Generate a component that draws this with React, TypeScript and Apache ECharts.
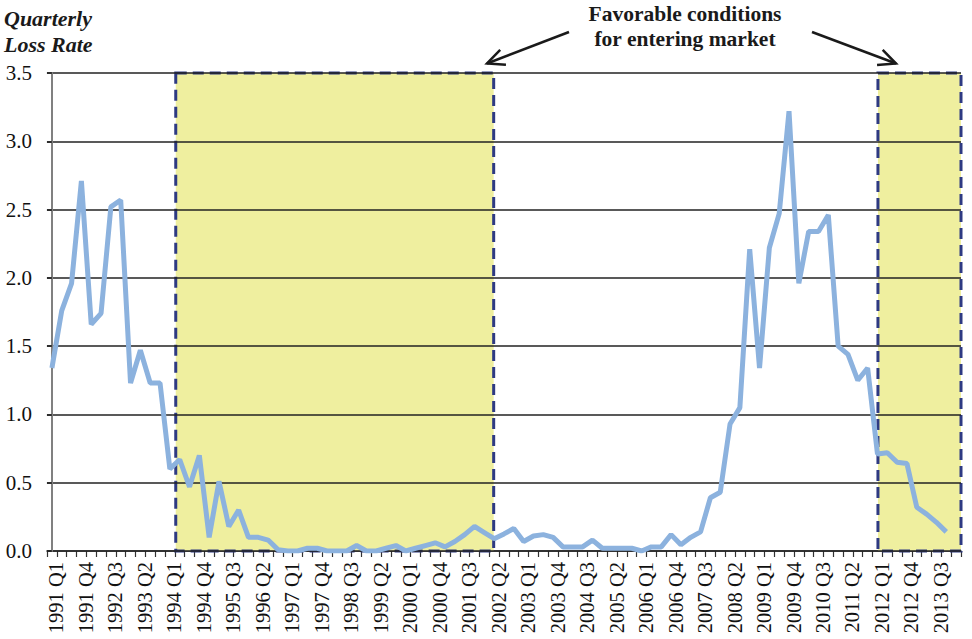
import React, { useEffect, useRef } from "react";
import * as echarts from "echarts";

// Quarterly categories 1991 Q1 .. 2014 Q1 (last one has no observation)
const years: number[] = [1991, 1992, 1993, 1994, 1995, 1996, 1997, 1998, 1999, 2000, 2001, 2002, 2003, 2004, 2005, 2006, 2007, 2008, 2009, 2010, 2011, 2012, 2013];
const quarterNames: string[] = ["Q1", "Q2", "Q3", "Q4"];
const categories: string[] = [];
years.forEach((y) => quarterNames.forEach((q) => categories.push(`${y} ${q}`)));
categories.push("2014 Q1");

// Quarterly loss rate, 1991 Q1 .. 2013 Q4
const lossRate: number[] = [
  1.34, 1.76, 1.96, 2.71, 1.66, 1.74, 2.52, 2.57,
  1.23, 1.47, 1.23, 1.23, 0.6, 0.67, 0.47, 0.7,
  0.1, 0.51, 0.18, 0.3, 0.1, 0.1, 0.08, 0.01,
  0.0, 0.0, 0.02, 0.02, 0.0, 0.0, 0.0, 0.04,
  0.0, 0.0, 0.02, 0.04, 0.0, 0.02, 0.04, 0.06,
  0.03, 0.07, 0.12, 0.18, 0.135, 0.09, 0.125, 0.165,
  0.07, 0.11, 0.12, 0.1, 0.03, 0.03, 0.03, 0.08,
  0.02, 0.02, 0.02, 0.02, 0.0, 0.03, 0.03, 0.12,
  0.045, 0.1, 0.14, 0.39, 0.43, 0.93, 1.05, 2.21,
  1.34, 2.22, 2.47, 3.22, 1.96, 2.34, 2.34, 2.46,
  1.5, 1.44, 1.25, 1.34, 0.71, 0.72, 0.65, 0.64,
  0.32, 0.27, 0.21, 0.14,
];

// Shaded "favorable" windows, in category-index units
const favorableStart: number[] = [12.6, 84.05];
const favorableEnd: number[] = [44.95, 92.5];

const yTicks = { min: 0, max: 3.5, step: 0.5 };

const titleLines: string[] = ["Quarterly", "Loss Rate"];
const noteLines: string[] = ["Favorable conditions", "for entering market"];

const SERIF = "Liberation Serif";

function arrow(x1: number, y1: number, x2: number, y2: number): any[] {
  const ang = Math.atan2(y1 - y2, x1 - x2);
  const len = 19;
  const spread = (25 * Math.PI) / 180;
  const w1 = [x2 + len * Math.cos(ang - spread), y2 + len * Math.sin(ang - spread)];
  const w2 = [x2 + len * Math.cos(ang + spread), y2 + len * Math.sin(ang + spread)];
  const style = { stroke: "#1a1a1a", lineWidth: 2.5, fill: null };
  return [
    { type: "line", shape: { x1, y1, x2, y2 }, style },
    { type: "polyline", shape: { points: [w1, [x2, y2], w2] }, style },
  ];
}

export default function App() {
  const ref = useRef<HTMLDivElement>(null);

  useEffect(() => {
    if (!ref.current) return;
    const chart = echarts.init(ref.current, undefined, { renderer: "svg" });

    const option: any = {
      animation: false,
      backgroundColor: "#ffffff",
      textStyle: { fontFamily: SERIF },
      grid: { left: 47, right: 11, top: 73, bottom: 88, containLabel: false },
      xAxis: [
        {
          type: "category",
          data: categories,
          boundaryGap: true,
          axisLine: { show: true, lineStyle: { color: "#333", width: 1.5 } },
          axisTick: { show: true, interval: 0, length: 6, lineStyle: { color: "#333", width: 1.2 } },
          axisLabel: {
            interval: 2,
            rotate: 90,
            fontFamily: SERIF,
            fontSize: 20.5,
            color: "#111",
            margin: 11,
            verticalAlign: "top",
            lineHeight: 9,
          },
          splitLine: { show: false },
        },
        { type: "value", show: false, min: -0.5, max: categories.length - 0.5 },
      ],
      yAxis: {
        type: "value",
        min: yTicks.min,
        max: yTicks.max,
        interval: yTicks.step,
        z: 2,
        axisLine: { show: true, lineStyle: { color: "#808080", width: 2 } },
        axisTick: { show: true, length: 5, lineStyle: { color: "#222", width: 1.6 } },
        axisLabel: {
          formatter: (v: number) => v.toFixed(1),
          fontFamily: SERIF,
          fontSize: 21,
          color: "#111",
          margin: 15,
        },
        splitLine: { show: true, lineStyle: { color: "#222", width: 1.6 } },
      },
      series: [
        {
          type: "line",
          xAxisIndex: 1,
          data: [],
          silent: true,
          markArea: {
            silent: true,
            itemStyle: {
              color: "#EFEF9F",
              borderColor: "#2E3A82",
              borderWidth: 3,
              borderType: [11, 6],
            },
            data: favorableStart.map((s, i) => [
              { xAxis: s, yAxis: yTicks.max },
              { xAxis: favorableEnd[i], yAxis: yTicks.min },
            ]),
          },
        },
        {
          type: "line",
          name: "Quarterly Loss Rate",
          xAxisIndex: 0,
          data: lossRate,
          z: 3,
          symbol: "none",
          smooth: false,
          lineStyle: { color: "#8CB2DE", width: 5, join: "bevel" },
        },
      ],
      graphic: [
        ...titleLines.map((t, i) => ({
          type: "text",
          x: 4,
          y: 18 + i * 26,
          style: {
            text: t,
            fontFamily: SERIF,
            fontStyle: "italic",
            fontWeight: "bold",
            fontSize: 22,
            fill: "#1a1a1a",
            align: "left",
            verticalAlign: "middle",
          },
        })),
        ...noteLines.map((t, i) => ({
          type: "text",
          x: 685,
          y: 14 + i * 25,
          style: {
            text: t,
            fontFamily: SERIF,
            fontWeight: "bold",
            fontSize: 21.5,
            fill: "#1a1a1a",
            align: "center",
            verticalAlign: "middle",
          },
        })),
        ...arrow(569, 32, 487, 63.5),
        ...arrow(812, 32, 896, 63.5),
      ],
    };

    chart.setOption(option);
    return () => chart.dispose();
  }, []);

  return (
    <div
      ref={ref}
      style={{ position: "absolute", left: 0, top: 0, width: 972, height: 639, background: "#fff" }}
    />
  );
}
